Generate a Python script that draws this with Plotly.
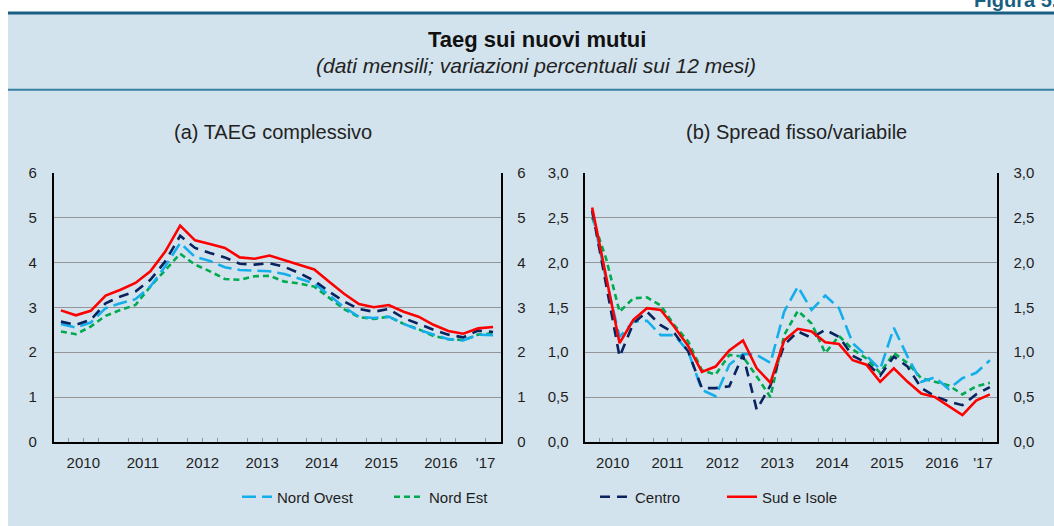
import pandas as pd
import plotly.graph_objects as go

# ---------------- data ----------------
quarters = pd.period_range("2010Q1", "2017Q2", freq="Q")
xq = [p.year + (p.quarter - 0.5) / 4 for p in quarters]

year_labels = ["2010", "2011", "2012", "2013", "2014", "2015", "2016", "'17"]
year_label_pos = [2010.5, 2011.5, 2012.5, 2013.5, 2014.5, 2015.5, 2016.5, 2017.25]
year_grid = [2011, 2012, 2013, 2014, 2015, 2016, 2017]
quarter_ticks = [y + q / 4 for y in range(2010, 2018) for q in (1, 2, 3) if y + q / 4 < 2017.5]

series_names = ["Nord Ovest", "Nord Est", "Centro", "Sud e Isole"]

taeg_nord_ovest = [2.63, 2.55, 2.66, 2.98, 3.09, 3.18, 3.46, 3.91, 4.43, 4.12, 4.03, 3.89, 3.83, 3.82, 3.80,
                   3.74, 3.64, 3.53, 3.27, 3.00, 2.79, 2.76, 2.79, 2.63, 2.50, 2.39, 2.29, 2.26, 2.39, 2.38]
taeg_nord_est = [2.46, 2.40, 2.57, 2.81, 2.94, 3.05, 3.46, 3.83, 4.19, 3.95, 3.80, 3.63, 3.61, 3.69, 3.70,
                 3.57, 3.53, 3.46, 3.20, 2.96, 2.78, 2.74, 2.79, 2.63, 2.51, 2.36, 2.29, 2.27, 2.39, 2.42]
taeg_centro = [2.68, 2.61, 2.72, 3.09, 3.24, 3.35, 3.61, 4.02, 4.59, 4.32, 4.21, 4.11, 3.97, 3.95, 3.98,
               3.90, 3.76, 3.59, 3.35, 3.13, 2.96, 2.90, 2.96, 2.76, 2.63, 2.50, 2.39, 2.33, 2.48, 2.45]
taeg_sud = [2.93, 2.82, 2.92, 3.26, 3.39, 3.54, 3.80, 4.24, 4.82, 4.49, 4.41, 4.32, 4.11, 4.08, 4.15,
            4.05, 3.94, 3.84, 3.57, 3.30, 3.07, 3.00, 3.05, 2.90, 2.79, 2.61, 2.47, 2.41, 2.53, 2.56]

spread_nord_ovest = [2.56, 1.82, 1.17, 1.34, 1.35, 1.19, 1.19, 1.01, 0.58, 0.51, 0.86, 0.98, 0.97, 0.88, 1.45,
                     1.73, 1.47, 1.63, 1.49, 1.10, 0.96, 0.81, 1.27, 0.95, 0.67, 0.72, 0.59, 0.71, 0.77, 0.91]
spread_nord_est = [2.50, 2.05, 1.45, 1.60, 1.61, 1.52, 1.30, 1.12, 0.80, 0.75, 0.97, 0.95, 0.73, 0.50, 1.19,
                   1.46, 1.32, 0.99, 1.18, 1.03, 0.93, 0.77, 0.99, 0.88, 0.71, 0.67, 0.63, 0.53, 0.62, 0.66]
spread_centro = [2.58, 1.75, 0.95, 1.32, 1.45, 1.30, 1.21, 1.01, 0.60, 0.60, 0.62, 0.97, 0.36, 0.63, 1.08,
                 1.23, 1.16, 1.25, 1.17, 0.96, 0.88, 0.74, 0.95, 0.84, 0.60, 0.51, 0.45, 0.41, 0.53, 0.61]
spread_sud = [2.61, 1.86, 1.10, 1.36, 1.49, 1.47, 1.28, 1.07, 0.78, 0.84, 1.02, 1.13, 0.82, 0.66, 1.13,
              1.26, 1.23, 1.11, 1.09, 0.91, 0.86, 0.67, 0.82, 0.67, 0.54, 0.50, 0.40, 0.30, 0.46, 0.53]

# ---------------- styling ----------------
W, H = 1054, 526
FONT = "Liberation Sans, Arial, Helvetica, sans-serif"
BG = "rgb(211,227,237)"
GRID = "rgb(150,150,150)"
TXT = "#1e1e1e"

styles = {
    "Nord Ovest": dict(color="rgb(20,175,235)", dash="14px,6px", width=2.6),
    "Nord Est": dict(color="rgb(0,170,80)", dash="6px,4px", width=2.6),
    "Centro": dict(color="rgb(10,35,95)", dash="10px,7px", width=2.6),
    "Sud e Isole": dict(color="rgb(255,0,0)", dash="solid", width=2.6),
}


def px_x(p):
    return p / W


def px_y(p):
    return 1 - p / H


fig = go.Figure()

left = {"Nord Ovest": taeg_nord_ovest, "Nord Est": taeg_nord_est, "Centro": taeg_centro, "Sud e Isole": taeg_sud}
right = {"Nord Ovest": spread_nord_ovest, "Nord Est": spread_nord_est, "Centro": spread_centro, "Sud e Isole": spread_sud}
draw_order = ["Nord Est", "Nord Ovest", "Centro", "Sud e Isole"]
legend_of = {"Nord Ovest": "legend", "Nord Est": "legend", "Centro": "legend2", "Sud e Isole": "legend2"}
rank = {"Nord Ovest": 1, "Nord Est": 2, "Centro": 3, "Sud e Isole": 4}

# invisible carriers so that the mirrored right-hand value axes are drawn
fig.add_trace(go.Scatter(x=xq, y=taeg_sud, mode="lines", line=dict(width=0), opacity=0,
                         xaxis="x", yaxis="y3", showlegend=False, hoverinfo="skip"))
fig.add_trace(go.Scatter(x=xq, y=spread_sud, mode="lines", line=dict(width=0), opacity=0,
                         xaxis="x2", yaxis="y4", showlegend=False, hoverinfo="skip"))

for name in draw_order:
    fig.add_trace(go.Scatter(x=xq, y=left[name], mode="lines", name=name, line=styles[name],
                             xaxis="x", yaxis="y", showlegend=(legend_of[name] == "legend"),
                             legend="legend", legendrank=rank[name], hoverinfo="skip"))
for name in draw_order:
    fig.add_trace(go.Scatter(x=xq, y=right[name], mode="lines", name=name, line=styles[name],
                             xaxis="x2", yaxis="y2", showlegend=(legend_of[name] == "legend2"),
                             legend="legend2", legendrank=rank[name], hoverinfo="skip"))

# domains (pixel based)
lx = [px_x(53.5), px_x(500.5)]
rx = [px_x(585.3), px_x(996.7)]
yd = [px_y(442), px_y(172.5)]

tickfont = dict(family=FONT, size=15, color=TXT)


def main_x(domain, anchor):
    return dict(domain=domain, anchor=anchor, range=[2010, 2017.5], tickmode="array",
                tickvals=year_label_pos, ticktext=year_labels, ticks="", showgrid=False,
                zeroline=False, showline=True, linecolor="black", linewidth=1.5,
                tickfont=tickfont, ticklabelstandoff=6,
                minor=dict(tickmode="array", tickvals=quarter_ticks, ticks="inside", ticklen=4,
                           tickcolor="rgb(150,150,150)", tickwidth=1, showgrid=False))


def grid_x(domain, anchor, over):
    return dict(domain=domain, anchor=anchor, overlaying=over, side="top", range=[2010, 2017.5],
                tickmode="array", tickvals=year_grid, showticklabels=False, ticks="",
                showgrid=True, gridcolor=GRID, gridwidth=1, zeroline=False,
                showline=True, linecolor=GRID, linewidth=1)


def main_y(domain, anchor, rng, dtick, fmt):
    return dict(domain=domain, anchor=anchor, range=rng, dtick=dtick, tick0=0, tickformat=fmt,
                showgrid=True, gridcolor=GRID, gridwidth=1, zeroline=False, showline=True,
                linecolor="black", linewidth=1.5, ticks="", tickfont=tickfont, ticklabelstandoff=12)


def right_y(anchor, over, rng, dtick, fmt):
    return dict(anchor=anchor, overlaying=over, side="right", range=rng,
                tickmode="linear", dtick=dtick, tick0=0, tickformat=fmt, showgrid=False,
                zeroline=False, showline=True, linecolor="black", linewidth=1.5, ticks="",
                showticklabels=True, tickfont=tickfont, ticklabelstandoff=12)


fig.update_layout(
    width=W, height=H, margin=dict(l=0, r=0, t=0, b=0, autoexpand=False),
    paper_bgcolor="white", plot_bgcolor="white", separators=",.",
    font=dict(family=FONT, color=TXT),
    xaxis=main_x(lx, "y"), xaxis2=main_x(rx, "y2"),
    xaxis3=grid_x(lx, "y", "x"), xaxis4=grid_x(rx, "y2", "x2"),
    yaxis=main_y(yd, "x", [0, 6], 1, "d"), yaxis2=main_y(yd, "x2", [0, 3], 0.5, ".1f"),
    yaxis3=right_y("x", "y", [0, 6], 1, "d"), yaxis4=right_y("x2", "y2", [0, 3], 0.5, ".1f"),
    legend=dict(orientation="h", x=px_x(237), y=px_y(497), xanchor="left", yanchor="middle",
                bgcolor="rgba(0,0,0,0)", font=dict(family=FONT, size=15, color=TXT),
                entrywidthmode="pixels", entrywidth=107, itemwidth=30, traceorder="normal"),
    legend2=dict(orientation="h", x=px_x(595), y=px_y(497), xanchor="left", yanchor="middle",
                 bgcolor="rgba(0,0,0,0)", font=dict(family=FONT, size=15, color=TXT),
                 entrywidthmode="pixels", entrywidth=82, itemwidth=30, traceorder="normal"),
    shapes=[
        dict(type="rect", xref="paper", yref="paper", x0=px_x(8), x1=1.0, y0=0, y1=px_y(13),
             fillcolor=BG, line=dict(width=0), layer="below"),
        dict(type="line", xref="paper", yref="paper", x0=px_x(8), x1=1.0, y0=px_y(13), y1=px_y(13),
             line=dict(color="rgb(25,95,130)", width=3)),
        dict(type="line", xref="paper", yref="paper", x0=px_x(8), x1=1.0, y0=px_y(89.7), y1=px_y(89.7),
             line=dict(color="rgb(55,128,162)", width=2)),
    ],
    annotations=[
        dict(text="<b>Figura 5.</b>", xref="paper", yref="paper", x=px_x(1059), y=px_y(12.5),
             xanchor="right", yanchor="bottom", showarrow=False,
             font=dict(family=FONT, size=20, color="rgb(25,95,130)")),
        dict(text="<b>Taeg sui nuovi mutui</b>", xref="paper", yref="paper", x=px_x(537), y=px_y(39),
             xanchor="center", yanchor="middle", showarrow=False,
             font=dict(family=FONT, size=22, color="#111111")),
        dict(text="<i>(dati mensili; variazioni percentuali sui 12 mesi)</i>", xref="paper", yref="paper",
             x=px_x(536), y=px_y(66), xanchor="center", yanchor="middle", showarrow=False,
             font=dict(family=FONT, size=21, color="#222222")),
        dict(text="(a) TAEG complessivo", xref="paper", yref="paper", x=px_x(273), y=px_y(132),
             xanchor="center", yanchor="middle", showarrow=False,
             font=dict(family=FONT, size=20, color="#222222")),
        dict(text="(b) Spread fisso/variabile", xref="paper", yref="paper", x=px_x(796), y=px_y(132),
             xanchor="center", yanchor="middle", showarrow=False,
             font=dict(family=FONT, size=20, color="#222222")),
    ],
)

fig.write_html("out.html", config={"displayModeBar": False},
               post_script="document.body.style.margin='0';")
